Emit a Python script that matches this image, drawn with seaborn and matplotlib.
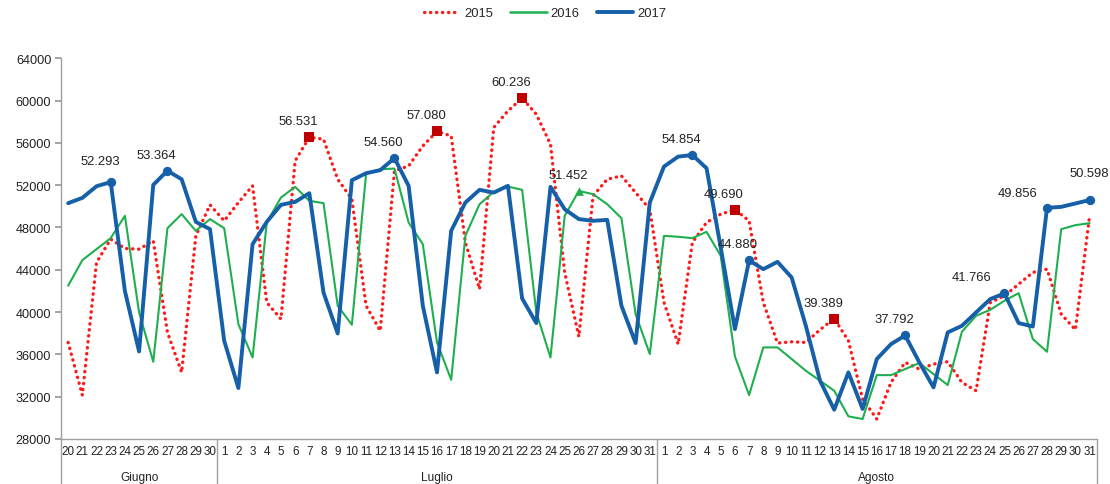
import numpy as np
import pandas as pd
import matplotlib
matplotlib.use("Agg")
import matplotlib.pyplot as plt
import matplotlib.transforms as mtransforms
from matplotlib.lines import Line2D
import seaborn as sns

# days shown on the axis (20-30 June, July, August)
days_giugno = list(range(20, 31))
days_luglio = list(range(1, 32))
days_agosto = list(range(1, 32))
day_labels = [str(d) for d in days_giugno + days_luglio + days_agosto]
months = ["Giugno", "Luglio", "Agosto"]

v2015 = [37130, 32150, 44690, 46900, 46010, 45950, 46740, 38080, 34300, 47210, 50140,
         48630, 50360, 51940, 40910, 39340, 54300, 56531, 56350, 52560, 50680, 40600,
         38230, 53350, 53820, 55710, 57080, 56660, 46580, 42170, 57450, 59020, 60236,
         58710, 55870, 43750, 37670, 50990, 52560, 52880, 51300, 49730,
         40910, 36970, 46580, 48470, 49260, 49690, 48630, 40910, 37070, 37190, 37130,
         38330, 39389, 37290, 31780, 29890, 33350, 35240, 34610, 35080, 35310, 33350,
         32560, 40910, 41540, 42640, 43750, 44060, 39810, 38330, 49100]

v2016 = [42490, 44910, 45950, 46990, 49100, 39970, 35300, 47930, 49260, 47680, 48790,
         47930, 38860, 35710, 48470, 50830, 51840, 50520, 50300, 40600, 38800, 53040,
         53510, 53570, 48470, 46420, 37130, 33600, 47210, 50200, 51370, 51870, 51560,
         39970, 35710, 49100, 51452, 51150, 50200, 48880, 39810, 36030,
         47210, 47120, 46990, 47590, 45320, 35810, 32150, 36660, 36660, 35560, 34450,
         33510, 32560, 30140, 29890, 34040, 34040, 34610, 35180, 34140, 33100, 38140,
         39650, 40220, 41070, 41790, 37450, 36250, 47840, 48220, 48410]

v2017 = [50300, 50800, 51900, 52293, 42000, 36280, 52030, 53364, 52560, 48530, 47840,
         37290, 32820, 46420, 48530, 50140, 50420, 51240, 41850, 37980, 52470, 53130,
         53420, 54560, 51940, 40600, 34300, 47680, 50360, 51560, 51300, 51940, 41290,
         38960, 51840, 49730, 48790, 48630, 48720, 40600, 37070, 50360,
         53760, 54700, 54854, 53600, 46100, 38390, 44880, 44060, 44750, 43270, 38700,
         33510, 30770, 34300, 30840, 35560, 36970, 37792, 35240, 32880, 38080, 38700,
         39970, 41230, 41766, 38960, 38640, 49856, 49950, 50270, 50598]

# labelled points (index into the day list)
peaks_2015 = [17, 26, 32, 47, 54]
peaks_2016 = [36]
peaks_2017 = [3, 7, 23, 44, 48, 59, 66, 69, 72]

n = len(day_labels)
df = pd.DataFrame({
    "x": list(range(n)) * 3,
    "anno": ["2015"] * n + ["2016"] * n + ["2017"] * n,
    "valore": v2015 + v2016 + v2017,
})

sns.set_theme(style="white")
plt.rcParams["font.family"] = ["Liberation Sans", "DejaVu Sans"]

red = "#FF1A1A"
green = "#1FAF4F"
blue = "#1560A8"
dark_red = "#C00000"

fig = plt.figure(figsize=(11.1, 4.85), dpi=100)
ax = fig.add_axes([0.055, 0.0928, 0.933, 0.785])

sns.lineplot(data=df[df.anno == "2015"], x="x", y="valore", ax=ax, color=red,
             linewidth=2.4, linestyle=(0, (0.1, 1.7)), legend=False)
ax.lines[-1].set_dash_capstyle("round")
sns.lineplot(data=df[df.anno == "2016"], x="x", y="valore", ax=ax, color=green,
             linewidth=1.5, legend=False)
sns.lineplot(data=df[df.anno == "2017"], x="x", y="valore", ax=ax, color=blue,
             linewidth=2.8, legend=False)

# markers on the labelled points
ax.scatter(peaks_2015, [v2015[i] for i in peaks_2015], marker="s", s=45,
           color=dark_red, zorder=5, linewidths=0)
ax.scatter(peaks_2016, [v2016[i] for i in peaks_2016], marker="^", s=40,
           color=green, zorder=5, linewidths=0)
ax.scatter(peaks_2017, [v2017[i] for i in peaks_2017], marker="o", s=45,
           color=blue, zorder=5, linewidths=0)

def fmt(v):
    return f"{v:,}".replace(",", ".")

offsets = {66: (-33, 16), 69: (-29, 15), 72: (0, 27), 3: (-10, 21)}
for vals, idx in ((v2015, peaks_2015), (v2016, peaks_2016), (v2017, peaks_2017)):
    for i in idx:
        dx, dy = offsets.get(i, (-11, 16))
        ax.annotate(fmt(vals[i]), (i, vals[i]), xytext=(dx * 0.72, dy * 0.72),
                    textcoords="offset points", ha="center", va="center",
                    fontsize=9.4, color="#222222", zorder=6)

ax.set_xlim(-0.5, n - 0.5)
ax.set_ylim(28000, 64000)
ax.set_yticks(np.arange(28000, 64001, 4000))
ax.set_xticks(range(n))
ax.set_xticklabels(day_labels, fontsize=8.4, color="#222222")
ax.tick_params(axis="x", length=0, pad=4)
ax.tick_params(axis="y", length=4, direction="out", left=True, labelsize=9.2,
               labelcolor="#222222", color="#999999", pad=3)
ax.set_xlabel("")
ax.set_ylabel("")
ax.grid(False)
for side in ["top", "right"]:
    ax.spines[side].set_visible(False)
for side in ["left", "bottom"]:
    ax.spines[side].set_color("#A0A0A0")
    ax.spines[side].set_linewidth(1.0)

# month grouping below the day labels
trans = mtransforms.blended_transform_factory(ax.transData, ax.transAxes)
bounds = [-0.5, len(days_giugno) - 0.5, len(days_giugno) + len(days_luglio) - 0.5, n - 0.5]
for b in bounds:
    ax.add_line(Line2D([b, b], [0, -0.125], transform=trans, color="#A0A0A0",
                       linewidth=1.0, clip_on=False))
for m, a, b in zip(months, bounds[:-1], bounds[1:]):
    ax.text((a + b) / 2, -0.1, m, transform=trans, ha="center", va="center",
            fontsize=8.6, color="#222222")

handles = [
    Line2D([], [], color=red, linewidth=2.4, linestyle=(0, (0.1, 1.7)),
           dash_capstyle="round"),
    Line2D([], [], color=green, linewidth=1.8),
    Line2D([], [], color=blue, linewidth=2.8),
]
fig.legend(handles, ["2015", "2016", "2017"], loc="center", ncol=3,
           bbox_to_anchor=(0.491, 0.971), frameon=False, fontsize=9.4,
           handlelength=2.8, columnspacing=1.3, handletextpad=0.3)

fig.savefig("out.png", dpi=100)
